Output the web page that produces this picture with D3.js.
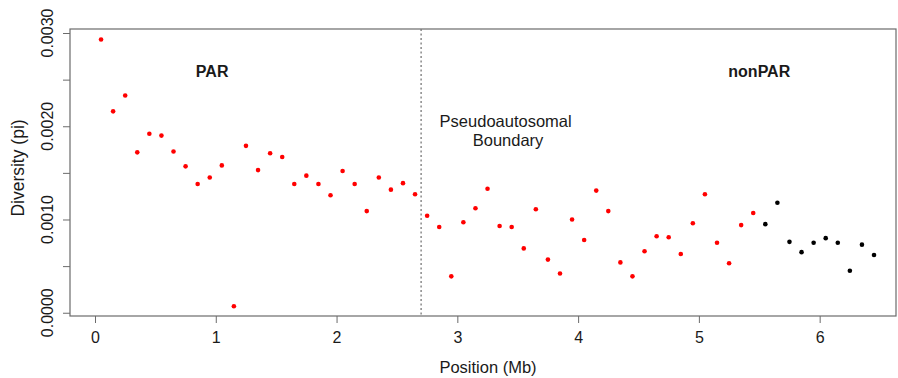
<!DOCTYPE html>
<html>
<head>
<meta charset="utf-8">
<script src="https://cdn.jsdelivr.net/npm/d3@7"></script>
<style>
  body { margin: 0; background: #fff; }
  text { font-family: "Liberation Sans", Arial, sans-serif; fill: #1a1a1a; }
</style>
</head>
<body>
<script>
// chart size, matches the screenshot
let width = 898,
    height = 378,
    margin = { top: 29, right: 2, bottom: 62, left: 70 };

// bin centres (Mb) and diversity, PAR side in red
var parPos = [0.05, 0.15, 0.25, 0.35, 0.45, 0.55, 0.65, 0.75, 0.85, 0.95,
              1.05, 1.15, 1.25, 1.35, 1.45, 1.55, 1.65, 1.75, 1.85, 1.95,
              2.05, 2.15, 2.25, 2.35, 2.45, 2.55, 2.65, 2.75, 2.85, 2.95,
              3.05, 3.15, 3.25, 3.35, 3.45, 3.55, 3.65, 3.75, 3.85, 3.95,
              4.05, 4.15, 4.25, 4.35, 4.45, 4.55, 4.65, 4.75, 4.85, 4.95,
              5.05, 5.15, 5.25, 5.35, 5.45];
var parPi = [0.00293, 0.00216, 0.00233, 0.00172, 0.00192, 0.00190, 0.00173, 0.00157, 0.00138, 0.00145,
             0.00158, 0.00007, 0.00179, 0.00153, 0.00171, 0.00167, 0.00138, 0.00147, 0.00138, 0.00126,
             0.00152, 0.00138, 0.00109, 0.00145, 0.00132, 0.00139, 0.00127, 0.00104, 0.00092, 0.00039,
             0.00097, 0.00112, 0.00133, 0.00093, 0.00092, 0.00069, 0.00111, 0.00057, 0.00042, 0.00100,
             0.00078, 0.00131, 0.00109, 0.00054, 0.00039, 0.00066, 0.00082, 0.00081, 0.00063, 0.00096,
             0.00127, 0.00075, 0.00053, 0.00094, 0.00107];

// the black ones at the far end
var nonParPos = [5.55, 5.65, 5.75, 5.85, 5.95, 6.05, 6.15, 6.25, 6.35, 6.45];
var nonParPi = [0.00095, 0.00118, 0.00076, 0.00065, 0.00075, 0.00080, 0.00075, 0.00045, 0.00073, 0.00062];

var xTicks = [0, 1, 2, 3, 4, 5, 6];
var yTicks = [0, 0.0005, 0.0010, 0.0015, 0.0020, 0.0025, 0.0030];
var yLabelTicks = [0, 0.0010, 0.0020, 0.0030];
var boundary = 2.7;

var svg = d3.select('body').append('svg')
    .attr('width', width)
    .attr('height', height);

var x = d3.scaleLinear()
    .domain([-0.207, 6.632])
    .range([margin.left, width - margin.right]);

var y = d3.scaleLinear()
    .domain([-0.000035, 0.003043])
    .range([height - margin.bottom, margin.top]);

var axisCol = '#6b6b6b';

// box round the plot
svg.append('rect')
    .attr('x', margin.left)
    .attr('y', margin.top)
    .attr('width', width - margin.right - margin.left)
    .attr('height', height - margin.bottom - margin.top)
    .attr('fill', 'none')
    .attr('stroke', axisCol)
    .attr('stroke-width', 1.2);

// x axis
var xAxis = svg.append('g')
    .attr('transform', `translate(0,${height - margin.bottom})`)
    .call(d3.axisBottom(x).tickValues(xTicks).tickSize(7).tickPadding(9).tickFormat(d3.format('d')));
xAxis.select('.domain').remove();
xAxis.selectAll('line').attr('stroke', axisCol);
xAxis.selectAll('text').attr('font-size', 16).attr('font-family', '"Liberation Sans", Arial, sans-serif');

// y axis, labels rotated R-style
var yAxis = svg.append('g')
    .attr('transform', `translate(${margin.left},0)`)
    .call(d3.axisLeft(y).tickValues(yTicks).tickSize(7).tickFormat(''));
yAxis.select('.domain').remove();
yAxis.selectAll('line').attr('stroke', axisCol);

svg.selectAll('.ylab')
    .data(yLabelTicks)
    .enter().append('text')
    .attr('class', 'ylab')
    .attr('transform', d => `translate(53,${y(d)}) rotate(-90)`)
    .attr('text-anchor', 'middle')
    .attr('font-size', 16)
    .text(d => d3.format('.4f')(d));

// axis titles
svg.append('text')
    .attr('x', 488)
    .attr('y', 373)
    .attr('text-anchor', 'middle')
    .attr('font-size', 16.5)
    .text('Position (Mb)');

svg.append('text')
    .attr('transform', `translate(24,168) rotate(-90)`)
    .attr('text-anchor', 'middle')
    .attr('font-size', 17.5)
    .text('Diversity (pi)');

// boundary line
svg.append('line')
    .attr('x1', x(boundary)).attr('x2', x(boundary))
    .attr('y1', margin.top).attr('y2', height - margin.bottom)
    .attr('stroke', '#777')
    .attr('stroke-width', 1.3)
    .attr('stroke-dasharray', '2,2.5');

// region labels
svg.append('text')
    .attr('x', x(0.97)).attr('y', y(0.00253))
    .attr('text-anchor', 'middle')
    .attr('font-size', 16).attr('font-weight', 'bold')
    .text('PAR');

svg.append('text')
    .attr('x', x(5.5)).attr('y', y(0.00253))
    .attr('text-anchor', 'middle')
    .attr('font-size', 16).attr('font-weight', 'bold')
    .text('nonPAR');

svg.append('text')
    .attr('x', x(3.4)).attr('y', y(0.00199))
    .attr('text-anchor', 'middle')
    .attr('font-size', 16.5)
    .text('Pseudoautosomal');

svg.append('text')
    .attr('x', x(3.42)).attr('y', y(0.00179))
    .attr('text-anchor', 'middle')
    .attr('font-size', 16.5)
    .text('Boundary');

// points
svg.selectAll('.par')
    .data(parPos)
    .enter().append('circle')
    .attr('class', 'par')
    .attr('cx', d => x(d))
    .attr('cy', (d, i) => y(parPi[i]))
    .attr('r', 2.3)
    .attr('fill', '#ff0000');

svg.selectAll('.nonpar')
    .data(nonParPos)
    .enter().append('circle')
    .attr('class', 'nonpar')
    .attr('cx', d => x(d))
    .attr('cy', (d, i) => y(nonParPi[i]))
    .attr('r', 2.3)
    .attr('fill', '#000');
</script>
</body>
</html>
